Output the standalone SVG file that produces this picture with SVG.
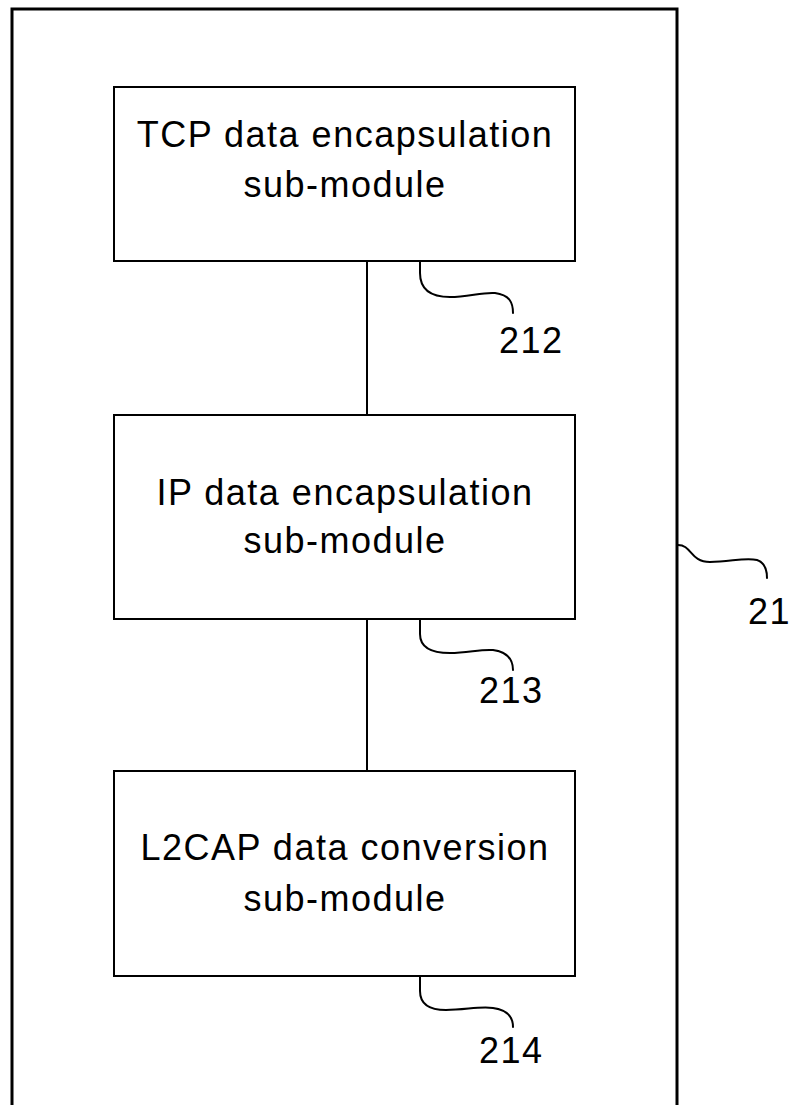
<svg xmlns="http://www.w3.org/2000/svg" width="793" height="1105" viewBox="0 0 793 1105">
  <style>
    .outer { fill: none; stroke: #000; stroke-width: 3; }
    .box { fill: #fff; stroke: #000; stroke-width: 2; }
    .link { fill: none; stroke: #000; stroke-width: 2; }
    .lead { fill: none; stroke: #000; stroke-width: 2; stroke-linecap: round; }
    .lbl { font-family: "Liberation Sans", Arial, sans-serif; font-size: 36px; letter-spacing: 1.5px; fill: #000; }
    .mid { text-anchor: middle; }
  </style>

  <!-- module 21: enclosing frame -->
  <g id="module-21">
    <rect class="outer" x="12" y="9" width="665" height="1120"/>
    <path class="lead" d="M678,545 C692,545 690,562 710,562 C730,562 745,557 757,560 C766,563 767,572 767,578"/>
    <text class="lbl" x="748" y="624">21</text>
  </g>

  <!-- vertical links between sub-modules -->
  <g id="connectors">
    <line class="link" x1="367" y1="261" x2="367" y2="415"/>
    <line class="link" x1="367" y1="619" x2="367" y2="771"/>
  </g>

  <g id="tcp-encapsulation">
    <rect class="box" x="114" y="87" width="461" height="174"/>
    <text class="lbl mid" x="345" y="147">TCP data encapsulation</text>
    <text class="lbl mid" x="345" y="197">sub-module</text>
    <path class="lead" d="M420,262 L420,273 C420,290 432,297 450,297 C468,297 482,292 495,293 C510,295 513,303 513,313"/>
    <text class="lbl" x="499" y="353">212</text>
  </g>

  <g id="ip-encapsulation">
    <rect class="box" x="114" y="415" width="461" height="204"/>
    <text class="lbl mid" x="345" y="505">IP data encapsulation</text>
    <text class="lbl mid" x="345" y="553">sub-module</text>
    <path class="lead" d="M420,620 L420,634 C420,648 432,653 450,653 C468,653 480,649 493,650 C508,652 513,660 513,670"/>
    <text class="lbl" x="479" y="703">213</text>
  </g>

  <g id="l2cap-conversion">
    <rect class="box" x="114" y="771" width="461" height="205"/>
    <text class="lbl mid" x="345" y="860">L2CAP data conversion</text>
    <text class="lbl mid" x="345" y="911">sub-module</text>
    <path class="lead" d="M420,977 L420,991 C420,1005 430,1010 446,1010 C465,1010 480,1006 493,1008 C508,1010 513,1017 513,1027"/>
    <text class="lbl" x="479" y="1063">214</text>
  </g>
</svg>
